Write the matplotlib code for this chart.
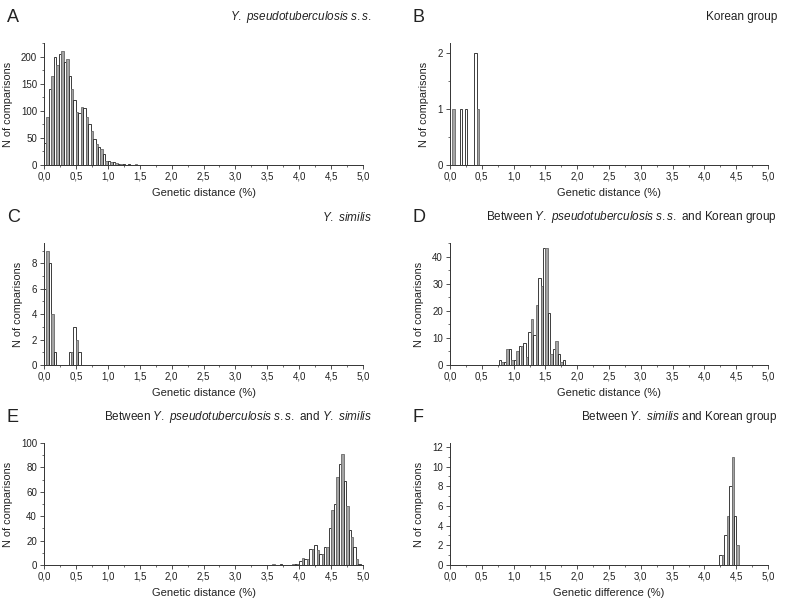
import matplotlib
matplotlib.use('Agg')
import matplotlib.pyplot as plt
from matplotlib.ticker import MultipleLocator, FuncFormatter
import numpy as np

plt.rcParams['font.family'] = ['Liberation Sans', 'DejaVu Sans']
plt.rcParams['mathtext.fontset'] = 'custom'
plt.rcParams['mathtext.rm'] = 'Liberation Sans'
plt.rcParams['mathtext.it'] = 'Liberation Sans:italic'

# histogram bins: one bin = one nucleotide difference (~0.0385 %)
BIN = 0.0385

# panel data: first bin index + counts per bin
a_start = 0
a_counts = [40, 88, 140, 165, 200, 185, 205, 210, 190, 195, 165, 140, 120, 97, 95,
            107, 105, 88, 75, 62, 48, 38, 33, 30, 20, 8, 7, 5, 6, 3, 2, 2, 1, 0, 1, 0, 0, 1]
b_start = 1
b_counts = [1, 0, 0, 1, 0, 1, 0, 0, 0, 2, 1]
c_start = 0
c_counts = [6, 9, 8, 4, 1, 0, 0, 0, 0, 0, 1, 1, 3, 2, 1]
d_start = 20
d_counts = [2, 1, 1, 6, 6, 2, 2, 5, 7, 7, 8, 3, 12, 17, 11, 22, 32, 29, 43, 43,
            19, 4, 6, 9, 4, 1, 2]
e_start = 93
e_counts = [1, 0, 0, 1, 0, 0, 0, 0,
            1, 1, 1, 3, 6, 5, 5, 13, 13, 16, 12, 9, 9, 15, 15, 30, 45, 50, 72, 83,
            91, 69, 48, 29, 23, 15, 5, 1]
f_start = 110
f_counts = [1, 1, 3, 5, 8, 11, 5, 2]

titles = [r'$\it{Y.\ pseudotuberculosis\ s.s.}$',
          'Korean group',
          r'$\it{Y.\ similis}$',
          r'Between $\it{Y.\ pseudotuberculosis\ s.s.}$ and Korean group',
          r'Between $\it{Y.\ pseudotuberculosis\ s.s.}$ and $\it{Y.\ similis}$',
          r'Between $\it{Y.\ similis}$ and Korean group']
letters = ['A', 'B', 'C', 'D', 'E', 'F']
xlabels = ['Genetic distance (%)'] * 5 + ['Genetic difference (%)']
ylims = [225, 2.17, 9.6, 45, 100, 12.4]
ymajor = [50, 1, 2, 10, 20, 2]
data = [(a_start, a_counts), (b_start, b_counts), (c_start, c_counts),
        (d_start, d_counts), (e_start, e_counts), (f_start, f_counts)]

W, H = 800, 605
fig = plt.figure(figsize=(W / 100, H / 100), dpi=100)
txt = '#222222'

lefts = [44, 450]
widths = [319, 318]
tops = [43, 243, 443]
ax_h = 122

comma = FuncFormatter(lambda v, p: f'{v:.1f}'.replace('.', ','))

for i in range(6):
    col, row = i % 2, i // 2
    l, w, t = lefts[col], widths[col], tops[row]
    ax = fig.add_axes([l / W, 1 - (t + ax_h) / H, w / W, ax_h / H])
    start, counts = data[i]
    idx = np.arange(start, start + len(counts))
    cnt = np.array(counts)
    keep = cnt > 0
    odd = idx[keep] % 2 == 1
    colors = np.where(odd, '#a4a4a4', 'white')
    edges = np.where(odd, '#6a6a6a', '#1e1e1e')
    ax.bar(idx[keep] * BIN, cnt[keep], width=BIN, align='edge', color=colors,
           edgecolor=edges, linewidth=0.6)
    ax.set_xlim(0, 5)
    ax.set_ylim(0, ylims[i])
    for s in ['top', 'right']:
        ax.spines[s].set_visible(False)
    for s in ['left', 'bottom']:
        ax.spines[s].set_linewidth(0.7)
        ax.spines[s].set_color('#333333')
    ax.xaxis.set_major_locator(MultipleLocator(0.5))
    ax.xaxis.set_minor_locator(MultipleLocator(0.25))
    ax.xaxis.set_major_formatter(comma)
    ax.yaxis.set_major_locator(MultipleLocator(ymajor[i]))
    ax.yaxis.set_minor_locator(MultipleLocator(ymajor[i] / 2))
    ax.tick_params(which='major', direction='out', length=3, width=0.6,
                   labelsize=7, colors='#333333', labelcolor=txt, pad=2)
    ax.tick_params(which='minor', direction='out', length=1.5, width=0.5,
                   colors='#333333')
    ax.set_xlabel(xlabels[i], fontsize=8, color=txt, labelpad=4)
    ax.set_ylabel('N of comparisons', fontsize=7.8, color=txt, labelpad=6)
    # panel letter and right-aligned title
    fig.text((l - 37) / W, 1 - (t - 26) / H, letters[i], fontsize=13,
             color=txt, ha='left', va='center')
    fig.text((l + w + 9) / W, 1 - (t - 26) / H, titles[i], fontsize=8.5,
             color=txt, ha='right', va='center')

fig.savefig('out.png', dpi=100)
